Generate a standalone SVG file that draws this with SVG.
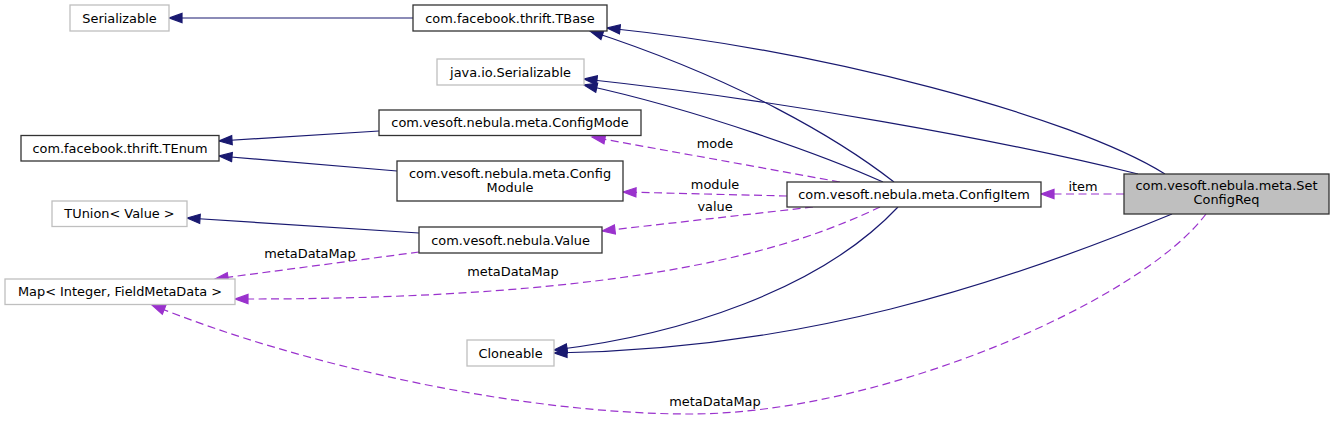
<svg xmlns="http://www.w3.org/2000/svg" width="1335" height="421" viewBox="0 0 1335 421">
<style>
text{font-family:"DejaVu Sans","Liberation Sans",sans-serif;font-size:12.9px;fill:#000;text-anchor:middle}
.n rect{fill:#fff;stroke:#333;stroke-width:1.3}
.g rect{fill:#fff;stroke:#bfbfbf;stroke-width:1.3}
.cur rect{fill:#bfbfbf;stroke:#333;stroke-width:1.3}
.inh{fill:none;stroke:#191970;stroke-width:1.2;marker-end:url(#an)}
.use{fill:none;stroke:#9a32cd;stroke-width:1.2;stroke-dasharray:8,4.5;marker-end:url(#ap)}
</style>
<defs>
<marker id="an" markerUnits="userSpaceOnUse" markerWidth="16" markerHeight="12" viewBox="-14 -6 16 12" refX="0" refY="0" orient="auto">
<path d="M0,0 L-13,-4.6 L-13,4.6 z" fill="#191970" stroke="#191970" stroke-width="1.2"/>
</marker>
<marker id="ap" markerUnits="userSpaceOnUse" markerWidth="16" markerHeight="12" viewBox="-14 -6 16 12" refX="0" refY="0" orient="auto">
<path d="M0,0 L-13,-4.6 L-13,4.6 z" fill="#9a32cd" stroke="#9a32cd" stroke-width="1.2"/>
</marker>
</defs>
<rect width="1335" height="421" fill="#fff"/>
<g id="edges">
<path class="inh" d="M413,18 L169,18"/>
<path class="inh" d="M1165,174 C1070,115 820,50 607,28"/>
<path class="inh" d="M894,182 C840,140 740,80 590,31"/>
<path class="inh" d="M1138,174 C1000,140 780,100 584,79"/>
<path class="inh" d="M883,182 C830,158 700,110 584,85"/>
<path class="inh" d="M379,131 L219,141"/>
<path class="inh" d="M397,171 L219,156"/>
<path class="inh" d="M419,233 L187,218"/>
<path class="inh" d="M898,207 C820,290 680,335 554,350"/>
<path class="inh" d="M1172,214 C1000,285 800,350 554,353"/>
<path class="use" d="M840,182 L592,137"/>
<path class="use" d="M787,196 L623,192"/>
<path class="use" d="M813,207 L602,231"/>
<path class="use" d="M419,252 L215,279"/>
<path class="use" d="M880,207 C800,245 650,300 235,299"/>
<path class="use" d="M1206,214 C1140,302 880,414 690,414 C520,414 300,365 152,305"/>
<path class="use" d="M1124,194 L1041,194"/>
<text x="715" y="147.5">mode</text>
<text x="715" y="188.5">module</text>
<text x="715" y="211">value</text>
<text x="310" y="257.5">metaDataMap</text>
<text x="513" y="276">metaDataMap</text>
<text x="715" y="405.5">metaDataMap</text>
<text x="1083" y="191">item</text>
</g>
<g id="serializable" class="g"><rect x="70" y="5" width="99" height="26"/><text x="119.5" y="22.5">Serializable</text></g>
<g id="tbase" class="n"><rect x="413" y="5" width="194" height="26"/><text x="510" y="22.5">com.facebook.thrift.TBase</text></g>
<g id="javaioserializable" class="g"><rect x="437" y="59" width="147" height="26"/><text x="510.5" y="76.5">java.io.Serializable</text></g>
<g id="configmode" class="n"><rect x="379" y="110" width="262" height="25.5"/><text x="510" y="127">com.vesoft.nebula.meta.ConfigMode</text></g>
<g id="tenum" class="n"><rect x="21" y="135.5" width="198" height="25.5"/><text x="120" y="152.5">com.facebook.thrift.TEnum</text></g>
<g id="configmodule" class="n"><rect x="397" y="161" width="226" height="40"/><text x="510" y="177.5">com.vesoft.nebula.meta.Config</text><text x="510" y="191.5">Module</text></g>
<g id="tunion" class="g"><rect x="52" y="201" width="135" height="25.5"/><text x="119.5" y="218">TUnion&lt; Value &gt;</text></g>
<g id="value" class="n"><rect x="419" y="227" width="183" height="26"/><text x="510.5" y="244.5">com.vesoft.nebula.Value</text></g>
<g id="map" class="g"><rect x="5" y="279" width="230" height="25.5"/><text x="120" y="296">Map&lt; Integer, FieldMetaData &gt;</text></g>
<g id="cloneable" class="g"><rect x="467" y="340" width="87" height="26"/><text x="510.5" y="357.5">Cloneable</text></g>
<g id="configitem" class="n"><rect x="787" y="182" width="254" height="25"/><text x="914" y="199">com.vesoft.nebula.meta.ConfigItem</text></g>
<g id="setconfigreq" class="cur"><rect x="1124" y="174" width="205" height="40"/><text x="1226.5" y="190">com.vesoft.nebula.meta.Set</text><text x="1226.5" y="204">ConfigReq</text></g>
</svg>
